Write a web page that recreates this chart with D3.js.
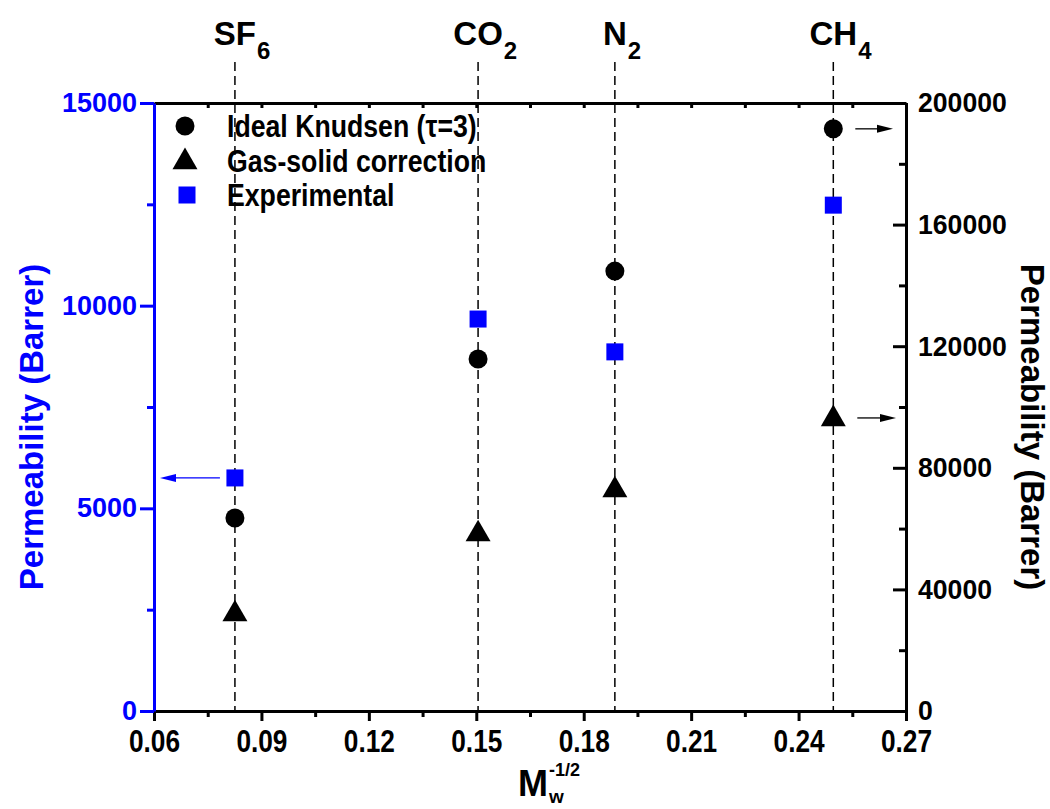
<!DOCTYPE html>
<html>
<head>
<meta charset="utf-8">
<script src="https://d3js.org/d3.v7.min.js"></script>
<style>
  body { margin: 0; background: #fff; }
  svg text { font-family: "Liberation Sans", Arial, sans-serif; font-weight: bold; }
</style>
</head>
<body>
<div id="chart"></div>
<script>
// gases, their M^-1/2 and permeabilities
const gasName = ["SF", "CO", "N", "CH"];
const gasSub = ["6", "2", "2", "4"];
const mw = [0.0826, 0.1505, 0.1887, 0.2497];
const knudsen = [63500, 115800, 144700, 191500];   // right axis (Barrer)
const gasSolid = [32200, 58500, 73000, 96400];     // right axis (Barrer)
const experimental = [5750, 9670, 8860, 12480];    // left axis (Barrer)
const legendLabels = ["Ideal Knudsen (\u03c4=3)", "Gas-solid correction", "Experimental"];
const xTicks = [0.06, 0.09, 0.12, 0.15, 0.18, 0.21, 0.24, 0.27];
const leftTicks = [0, 5000, 10000, 15000];
const rightTicks = [0, 40000, 80000, 120000, 160000, 200000];

const w = 1050, h = 809;
const m = { left: 154, right: 144, top: 103, bottom: 98 };

const svg = d3.select("#chart").append("svg")
  .attr("width", w).attr("height", h);

const x = d3.scaleLinear().domain([0.06, 0.27]).range([m.left, w - m.right]);
const yL = d3.scaleLinear().domain([0, 15000]).range([h - m.bottom, m.top]);
const yR = d3.scaleLinear().domain([0, 200000]).range([h - m.bottom, m.top]);

const blue = "#0000ff";
const x0 = m.left, x1 = w - m.right, y0 = h - m.bottom, y1 = m.top;

// squeeze text horizontally
function squeeze(sel, f) {
  sel.each(function () {
    const n = this.getComputedTextLength();
    d3.select(this).attr("textLength", n * f).attr("lengthAdjust", "spacingAndGlyphs");
  });
}

// vertical dashed lines for each gas
svg.append("g").selectAll("line").data(mw).join("line")
  .attr("x1", d => x(d)).attr("x2", d => x(d))
  .attr("y1", 62).attr("y2", y0)
  .attr("stroke", "#000").attr("stroke-width", 1.5)
  .attr("stroke-dasharray", "9,5");

// gas labels above
const gl = svg.append("g");
mw.forEach((d, i) => {
  const t = gl.append("text").attr("x", x(d)).attr("y", 45)
    .attr("text-anchor", "middle").attr("font-size", 33).text(gasName[i]);
  const tw = t.node().getComputedTextLength();
  gl.append("text").attr("x", x(d) + tw / 2 + 1).attr("y", 59)
    .attr("font-size", 24).text(gasSub[i]);
});

// ---- axes ----
const minorX = d3.range(0.075, 0.27, 0.03);
const allX = d3.range(0.06, 0.2701, 0.015);

const bottom = svg.append("g").attr("transform", `translate(0,${y0})`)
  .call(d3.axisBottom(x).tickValues(xTicks).tickSize(10).tickSizeOuter(0)
    .tickPadding(8).tickFormat(d3.format(".2f")));
bottom.selectAll("text").attr("font-size", 32).attr("fill", "#000").attr("dy", "0.72em");
squeeze(bottom.selectAll("text"), 0.82);
svg.append("g").attr("transform", `translate(0,${y0})`)
  .call(d3.axisBottom(x).tickValues(minorX).tickSize(6).tickSizeOuter(0).tickFormat(""));

svg.append("g").attr("transform", `translate(0,${y1})`)
  .call(d3.axisTop(x).tickValues(allX).tickSize(-5).tickSizeOuter(0).tickFormat(""));

const left = svg.append("g").attr("transform", `translate(${x0},0)`)
  .call(d3.axisLeft(yL).tickValues(leftTicks).tickSize(14).tickSizeOuter(0).tickPadding(3)
    .tickFormat(d3.format("d")));
left.selectAll("text").attr("font-size", 27).attr("fill", blue);
svg.append("g").attr("transform", `translate(${x0},0)`)
  .call(d3.axisLeft(yL).tickValues([2500, 7500, 12500]).tickSize(7).tickSizeOuter(0).tickFormat(""))
  .call(g => g.selectAll("line").attr("stroke", blue).attr("stroke-width", 3))
  .call(g => g.select(".domain").remove());

const right = svg.append("g").attr("transform", `translate(${x1},0)`)
  .call(d3.axisRight(yR).tickValues(rightTicks).tickSize(-13).tickSizeOuter(0).tickPadding(12)
    .tickFormat(d3.format("d")));
right.selectAll("text").attr("font-size", 28).attr("fill", "#000");
squeeze(right.selectAll("text"), 0.95);
svg.append("g").attr("transform", `translate(${x1},0)`)
  .call(d3.axisRight(yR).tickValues([20000, 60000, 100000, 140000, 180000]).tickSize(-7).tickSizeOuter(0).tickFormat(""))
  .call(g => g.select(".domain").remove());

svg.selectAll(".tick line").attr("stroke-width", 3);
svg.selectAll(".domain").attr("stroke-width", 3).attr("stroke", "#000");
left.select(".domain").attr("stroke", blue);
left.selectAll(".tick line").attr("stroke", blue);

// axis titles
svg.append("text")
  .attr("transform", `translate(43,${(y0 + y1) / 2 + 20}) rotate(-90)`)
  .attr("text-anchor", "middle").attr("font-size", 33).attr("fill", blue)
  .text("Permeability (Barrer)");
svg.append("text")
  .attr("transform", `translate(1021,${(y0 + y1) / 2 + 20}) rotate(90)`)
  .attr("text-anchor", "middle").attr("font-size", 33).attr("fill", "#000")
  .text("Permeability (Barrer)");

const xt = svg.append("g");
xt.append("text").attr("x", 518).attr("y", 796).attr("font-size", 36).text("M");
xt.append("text").attr("x", 549).attr("y", 803).attr("font-size", 19).text("w");
xt.append("text").attr("x", 549).attr("y", 776).attr("font-size", 18).text("-1/2");

// ---- markers ----
const tri = d3.symbol().type(d3.symbolTriangle).size(270);

svg.append("g").selectAll("circle").data(knudsen).join("circle")
  .attr("cx", (d, i) => x(mw[i])).attr("cy", d => yR(d)).attr("r", 9.5).attr("fill", "#000");

svg.append("g").selectAll("path").data(gasSolid).join("path")
  .attr("d", tri)
  .attr("transform", (d, i) => `translate(${x(mw[i])},${yR(d) + 1})`)
  .attr("fill", "#000");

svg.append("g").selectAll("rect").data(experimental).join("rect")
  .attr("x", (d, i) => x(mw[i]) - 8.5).attr("y", d => yL(d) - 8.5)
  .attr("width", 17).attr("height", 17).attr("fill", blue);

// arrows pointing to the axis each series belongs to
function arrow(xa, xb, y, color) {
  const dir = xb > xa ? 1 : -1;
  svg.append("line").attr("x1", xa).attr("x2", xb - dir * 10).attr("y1", y).attr("y2", y)
    .attr("stroke", color).attr("stroke-width", 1.3);
  svg.append("path")
    .attr("d", `M${xb},${y} L${xb - dir * 16},${y - 4} L${xb - dir * 16},${y + 4} Z`)
    .attr("fill", color);
}
arrow(x(mw[0]) - 15, x0 + 6, yL(experimental[0]), blue);
arrow(x(mw[3]) + 22, x1 - 13, yR(knudsen[3]), "#000");
arrow(x(mw[3]) + 24, x1 - 10, yR(gasSolid[3]), "#000");

// ---- legend ----
const lg = svg.append("g");
const rowY = [126, 161, 195];
lg.append("circle").attr("cx", 185).attr("cy", rowY[0]).attr("r", 9.5).attr("fill", "#000");
lg.append("path").attr("d", tri).attr("transform", `translate(185,${rowY[1] + 1})`).attr("fill", "#000");
lg.append("rect").attr("x", 178.5).attr("y", rowY[2] - 8.5).attr("width", 17).attr("height", 17).attr("fill", blue);
lg.selectAll("text").data(legendLabels).join("text")
  .attr("x", 227).attr("y", (d, i) => rowY[i] + 11)
  .attr("font-size", 31).text(d => d)
  .call(s => squeeze(s, 0.86));
</script>
</body>
</html>
